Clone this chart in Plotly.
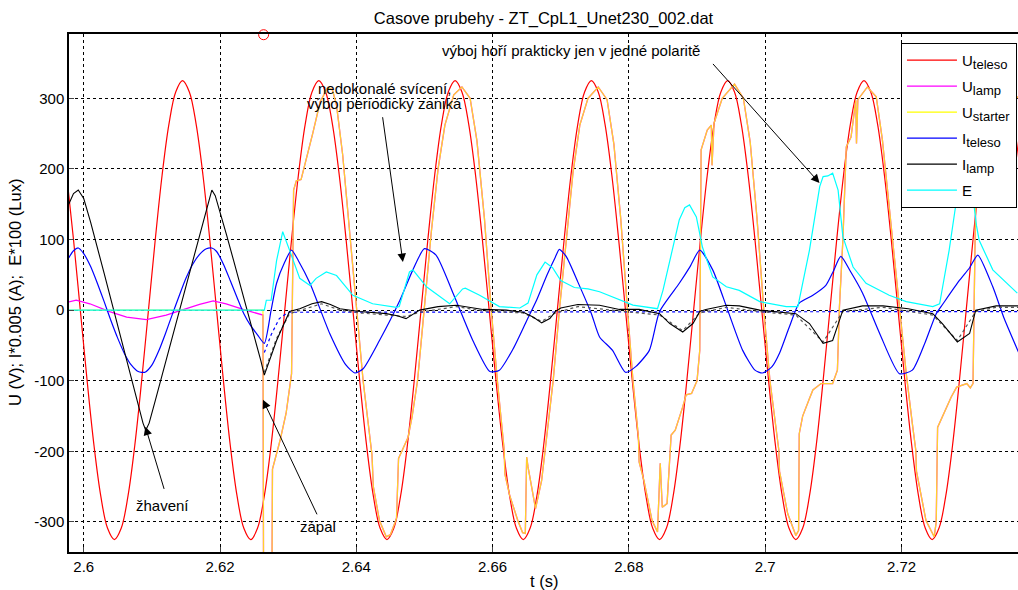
import plotly.graph_objects as go

# ---------------- data ----------------
title_text = "Casove prubehy - ZT_CpL1_Unet230_002.dat"
x_ticks = [2.6, 2.62, 2.64, 2.66, 2.68, 2.7, 2.72]
x_ticktext = ["2.6", "2.62", "2.64", "2.66", "2.68", "2.7", "2.72"]
y_ticks = [-300, -200, -100, 0, 100, 200, 300]
y_ticktext = ["-300", "-200", "-100", "0", "100", "200", "300"]

# U_teleso: sampled every 1 ms from 2.5975 s
uteleso_t0 = 2.5975
uteleso_dt = 0.001
uteleso_v = [
    191, 100, 0, -100, -191, -263, -309, -325, -309, -263, -191, -100, 0, 100, 191, 263, 309, 325, 309, 263,
    191, 100, 0, -100, -191, -263, -309, -325, -309, -263, -191, -100, 0, 100, 191, 263, 309, 325, 309, 263,
    191, 100, 0, -100, -191, -263, -309, -325, -309, -263, -191, -100, 0, 100, 191, 263, 309, 325, 309, 263,
    191, 100, 0, -100, -191, -263, -309, -325, -309, -263, -191, -100, 0, 100, 191, 263, 309, 325, 309, 263,
    191, 100, 0, -100, -191, -263, -309, -325, -309, -263, -191, -100, 0, 100, 191, 263, 309, 325, 309, 263,
    191, 100, 0, -100, -191, -263, -309, -325, -309, -263, -191, -100, 0, 100, 191, 263, 309, 325, 309, 263,
    191, 100, 0, -100, -191, -263, -309, -325, -309, -263, -191, -100, 0, 100, 191, 263, 309, 325, 309, 263,
    191,
]

# U_lamp before ignition
ulamp_pre_t = [2.5978, 2.5989, 2.6009, 2.6038, 2.6063, 2.6092, 2.6121, 2.6146, 2.6170, 2.6190, 2.6209, 2.6234, 2.6263]
ulamp_pre_v = [11.5, 14, 9, -2, -10, -13.5, -7, 1, 8, 13, 9, 1, -7]

# U_starter before ignition
ustarter_pre_t = [2.5978, 2.6263]
ustarter_pre_v = [0, 0]

# U_starter (= U_lamp) after ignition
ustarter_post_t = [
    2.6264, 2.6276, 2.6277, 2.6280, 2.6288, 2.6297, 2.6305, 2.6308, 2.6312, 2.6319, 2.6327, 2.6336, 2.6347,
    2.6358, 2.6365, 2.6371, 2.6380, 2.6390, 2.6400, 2.6410, 2.6423, 2.6425, 2.6434, 2.6444, 2.6450, 2.6459,
    2.6462, 2.6470, 2.6476, 2.6482, 2.6490, 2.6500, 2.6510, 2.6520, 2.6530, 2.6543, 2.6555, 2.6567, 2.6577,
    2.6588, 2.6598, 2.6607, 2.6617, 2.6618, 2.6625, 2.6637, 2.6644, 2.6648, 2.6650, 2.6652, 2.6663, 2.6672,
    2.6683, 2.6689, 2.6698, 2.6708, 2.6718, 2.6728, 2.6740, 2.6755, 2.6768, 2.6778, 2.6788, 2.6798, 2.6806,
    2.6814, 2.6815, 2.6822, 2.6834, 2.6842, 2.6846, 2.6849, 2.6856, 2.6862, 2.6868, 2.6879, 2.6884, 2.6892,
    2.6900, 2.6904, 2.6906, 2.6915, 2.6921, 2.6922, 2.6925, 2.6937, 2.6955, 2.6968, 2.6978, 2.6988, 2.6998,
    2.7007, 2.7020, 2.7021, 2.7033, 2.7045, 2.7049, 2.7050, 2.7055, 2.7065, 2.7070, 2.7082, 2.7099, 2.7106,
    2.7109, 2.7114, 2.7119, 2.7126, 2.7133, 2.7134, 2.7136, 2.7150, 2.7163, 2.7172, 2.7187, 2.7197, 2.7207,
    2.7216, 2.7221, 2.7222, 2.7236, 2.7248, 2.7251, 2.7253, 2.7262, 2.7273, 2.7281, 2.7296, 2.7301, 2.7305,
    2.7308, 2.7310, 2.7320, 2.7335, 2.7350, 2.7372,
]
ustarter_post_v = [
    -420, -420, -225, -215, -185, -146, -90, 170, 183, 185, 215, 250, 295,
    315, 312, 290, 220, 110, 0, -100, -205, -250, -298, -321, -318, -295,
    -210, -192, -180, -150, -99, 5, 110, 200, 262, 305, 316, 300, 240,
    130, 0, -100, -198, -232, -262, -298, -315, -316, -208, -222, -281, -241,
    -146, -99, 0, 100, 195, 262, 300, 316, 298, 235, 130, 0, -100,
    -180, -215, -241, -298, -314, -217, -279, -274, -177, -170, -137, -120, -118,
    -100, -57, 227, 255, 262, 205, 265, 300, 320, 300, 238, 130, 0,
    -100, -198, -228, -288, -319, -312, -175, -150, -125, -113, -104, -104, -85,
    5, 99, 231, 245, 297, 236, 298, 316, 302, 241, 99, 5, -90,
    -161, -198, -228, -298, -321, -300, -166, -146, -123, -109, -104, -110, -104,
    99, 200, 262, 305, 318, 300,
]

# I_teleso
iteleso_t = [
    2.5978, 2.5985, 2.5992, 2.6000, 2.6010, 2.6020, 2.6030, 2.6040, 2.6050, 2.6060, 2.6070, 2.6080, 2.6090,
    2.6100, 2.6110, 2.6120, 2.6130, 2.6140, 2.6150, 2.6160, 2.6170, 2.6180, 2.6188, 2.6195, 2.6205, 2.6215,
    2.6225, 2.6235, 2.6245, 2.6255, 2.6265, 2.6275, 2.6283, 2.6295, 2.6305, 2.6315, 2.6332, 2.6361, 2.6385,
    2.6398, 2.6410, 2.6434, 2.6464, 2.6483, 2.6500, 2.6517, 2.6542, 2.6571, 2.6596, 2.6610, 2.6630, 2.6650,
    2.6665, 2.6680, 2.6692, 2.6698, 2.6708, 2.6725, 2.6745, 2.6757, 2.6776, 2.6795, 2.6810, 2.6830, 2.6845,
    2.6874, 2.6890, 2.6904, 2.6923, 2.6945, 2.6967, 2.6985, 2.6996, 2.7010, 2.7021, 2.7035, 2.7050, 2.7070,
    2.7089, 2.7100, 2.7111, 2.7125, 2.7143, 2.7168, 2.7197, 2.7216, 2.7235, 2.7251, 2.7261, 2.7285, 2.7300,
    2.7312, 2.7334, 2.7350, 2.7372,
]
iteleso_v = [
    74, 84, 88, 80, 62, 38, 12, -15, -40, -62, -78, -87, -88,
    -78, -58, -33, -6, 20, 45, 65, 79, 87, 88, 83, 65, 42,
    18, -5, -22, -35, -47, 0, 38, 68, 85, 70, 38, -33, -78,
    -89, -83, -43, 14, 57, 87, 78, 24, -43, -87, -85, -55, -15,
    15, 50, 75, 86, 76, 40, -5, -38, -57, -88, -80, -57, -2,
    38, 62, 85, 57, 0, -57, -85, -89, -80, -61, -25, 10, 21,
    35, 55, 76, 55, 24, -33, -90, -85, -45, -5, 9, 42, 60,
    78, 33, -10, -60,
]

# I_lamp
ilamp_t = [
    2.5978, 2.5985, 2.5992, 2.6000, 2.6010, 2.6020, 2.6030, 2.6040, 2.6050, 2.6060, 2.6070, 2.6080, 2.6087,
    2.6091, 2.6096, 2.6105, 2.6115, 2.6125, 2.6135, 2.6145, 2.6155, 2.6165, 2.6175, 2.6183, 2.6188, 2.6193,
    2.6200, 2.6210, 2.6220, 2.6230, 2.6240, 2.6250, 2.6260, 2.6265, 2.6283, 2.6302, 2.6317, 2.6335, 2.6349,
    2.6362, 2.6376, 2.6405, 2.6444, 2.6460, 2.6473, 2.6483, 2.6493, 2.6520, 2.6547, 2.6586, 2.6620, 2.6645,
    2.6660, 2.6672, 2.6684, 2.6692, 2.6700, 2.6725, 2.6757, 2.6786, 2.6815, 2.6845, 2.6860, 2.6879, 2.6894,
    2.6904, 2.6913, 2.6943, 2.6962, 2.6992, 2.7045, 2.7065, 2.7085, 2.7099, 2.7114, 2.7143, 2.7173, 2.7210,
    2.7246, 2.7260, 2.7282, 2.7300, 2.7309, 2.7339, 2.7372,
]
ilamp_v = [
    150, 165, 170, 158, 125, 90, 52, 15, -22, -58, -95, -132, -160,
    -170, -160, -128, -92, -56, -20, 16, 52, 88, 124, 155, 170, 162,
    140, 105, 70, 35, 0, -35, -72, -92, -43, -2, 2, 9, 12,
    8, 2, -2, -5, -8, -12, -6, 0, 5, 7, 1, 0, -3,
    -10, -18, -12, -2, 3, 8, 7, 1, 1, -5, -19, -31, -19,
    -2, 1, 7, 6, 0, -5, -19, -47, -43, 0, 6, 6, 2,
    -5, -19, -45, -33, 0, 6, 6,
]

# faint companion traces around zero (not in the legend)
ilamp2_t = [2.6265, 2.6283, 2.6302, 2.6320, 2.6349, 2.6376, 2.6405, 2.6444, 2.6473, 2.6493, 2.6547, 2.6586,
            2.6645, 2.6672, 2.6692, 2.6725, 2.6786, 2.6845, 2.6879, 2.6904, 2.6943, 2.6992, 2.7045, 2.7085,
            2.7114, 2.7173, 2.7246, 2.7282, 2.7309, 2.7339, 2.7372]
ilamp2_v = [-88, -40, -5, 0, 9, 0, -4, -7, -9, -3, 5, -1,
            -4, -16, -4, 5, -1, -7, -29, -4, 4, -2, -7, -45,
            -2, 4, -7, -43, -2, 4, 4]
iteleso2_t = [2.6265, 2.6275, 2.6287, 2.6300, 2.7372]
iteleso2_v = [-60, -35, -12, -3, -2]

# E
e_t = [
    2.5978, 2.6265, 2.6268, 2.6275, 2.6283, 2.6292, 2.6302, 2.6317, 2.6332, 2.6341, 2.6356, 2.6371, 2.6395,
    2.6424, 2.6459, 2.6463, 2.6478, 2.6483, 2.6503, 2.6522, 2.6537, 2.6556, 2.6560, 2.6581, 2.6610, 2.6640,
    2.6652, 2.6665, 2.6677, 2.6688, 2.6700, 2.6720, 2.6740, 2.6757, 2.6776, 2.6806, 2.6842, 2.6850, 2.6874,
    2.6882, 2.6889, 2.6899, 2.6908, 2.6923, 2.6943, 2.6962, 2.6992, 2.7031, 2.7048, 2.7065, 2.7080, 2.7085,
    2.7092, 2.7099, 2.7107, 2.7114, 2.7129, 2.7148, 2.7182, 2.7207, 2.7246, 2.7256, 2.7270, 2.7280, 2.7290,
    2.7300, 2.7310, 2.7314, 2.7334, 2.7370,
]
e_v = [
    0, 0, 14, 14, 70, 111, 85, 45, 35, 45, 54, 49, 21,
    9, 4, 5, 54, 57, 33, 19, 9, 30, 31, 21, 5, 3,
    10, 50, 68, 60, 42, 32, 30, 26, 19, 7, 2, 28, 128,
    145, 149, 132, 89, 47, 33, 28, 12, 5, 5, 85, 175, 189,
    190, 194, 170, 104, 61, 38, 21, 12, 5, 9, 85, 151, 200,
    200, 120, 99, 57, 24,
]

# ignition marker
marker_t = [2.6264]
marker_v = [390]

# annotations: (text, t, value)
notes = [
    ("žhavení", 2.61159, -276),
    ("zápal", 2.63433, -307),
    ("nedokonalé svícení,", 2.64415, 314),
    ("výboj periodicky zaniká", 2.64415, 292),
]
note_left = ("výboj hoří prakticky jen v jedné polaritě", 2.65222, 368)
# arrows: head (t, value), tail (t, value)
arrows = [
    ((2.60905, -165), (2.61188, -256)),
    ((2.62630, -127), (2.63437, -292)),
    ((2.64684, 68), (2.64382, 276)),
    ((2.70797, 180), (2.69212, 351)),
]

# ---------------- figure ----------------
uteleso_t = [round(uteleso_t0 + uteleso_dt * i, 4) for i in range(len(uteleso_v))]
ulamp_t = ulamp_pre_t + ustarter_post_t
ulamp_v = ulamp_pre_v + ustarter_post_v
ustarter_t = ustarter_pre_t + ustarter_post_t
ustarter_v = ustarter_pre_v + ustarter_post_v

RED, MAG, YEL, BLU, BLK, CYA = "#FF0000", "#FF00FF", "#FFFF00", "#0000FF", "#000000", "#00FFFF"

fig = go.Figure()
fig.add_trace(go.Scatter(x=uteleso_t, y=uteleso_v, mode="lines", line=dict(color=RED, width=1.2, shape="spline"),
                         showlegend=False, hoverinfo="skip"))
fig.add_trace(go.Scatter(x=ulamp_t, y=ulamp_v, mode="lines", line=dict(color=MAG, width=1.3),
                         showlegend=False, hoverinfo="skip"))
fig.add_trace(go.Scatter(x=ustarter_t, y=ustarter_v, mode="lines", line=dict(color=YEL, width=1.3),
                         opacity=0.82, showlegend=False, hoverinfo="skip"))
fig.add_trace(go.Scatter(x=iteleso_t, y=iteleso_v, mode="lines",
                         line=dict(color=BLU, width=1.2, shape="spline", smoothing=0.6),
                         showlegend=False, hoverinfo="skip"))
fig.add_trace(go.Scatter(x=iteleso2_t, y=iteleso2_v, mode="lines", line=dict(color=BLU, width=1.2, dash="dot"),
                         showlegend=False, hoverinfo="skip"))
fig.add_trace(go.Scatter(x=ilamp2_t, y=ilamp2_v, mode="lines", line=dict(color="#555555", width=1.2, dash="dot"),
                         showlegend=False, hoverinfo="skip"))
fig.add_trace(go.Scatter(x=ilamp_t, y=ilamp_v, mode="lines", line=dict(color=BLK, width=1.1),
                         showlegend=False, hoverinfo="skip"))
fig.add_trace(go.Scatter(x=e_t, y=e_v, mode="lines", line=dict(color=CYA, width=1.2),
                         showlegend=False, hoverinfo="skip"))
fig.add_trace(go.Scatter(x=marker_t, y=marker_v, mode="markers", cliponaxis=False,
                         marker=dict(symbol="circle-open", color=RED, size=10, line=dict(width=1)),
                         showlegend=False, hoverinfo="skip"))

# legend entries
SUB = "<sub><span style='font-size:13px'>%s</span></sub>"
legend_items = [("U" + SUB % "teleso", RED), ("U" + SUB % "lamp", MAG), ("U" + SUB % "starter", YEL),
                ("I" + SUB % "teleso", BLU), ("I" + SUB % "lamp", BLK), ("E", CYA)]
for i, (name, col) in enumerate(legend_items):
    fig.add_trace(go.Scatter(x=[None], y=[None], mode="lines", name=name, legendgroup="g%d" % i,
                             line=dict(color=col, width=1.2)))

annotations = []
for txt, t, v in notes:
    annotations.append(dict(x=t, y=v, xref="x", yref="y", text=txt, showarrow=False,
                            font=dict(size=15, color="black"), xanchor="center", yanchor="middle"))
annotations.append(dict(x=note_left[1], y=note_left[2], xref="x", yref="y", text=note_left[0], showarrow=False,
                        font=dict(size=15, color="black"), xanchor="left", yanchor="middle"))
for (ht, hv), (tt, tv) in arrows:
    annotations.append(dict(x=ht, y=hv, ax=tt, ay=tv, xref="x", yref="y", axref="x", ayref="y", text=" ",
                            font=dict(size=1), showarrow=True, arrowhead=2, arrowsize=1.7, arrowwidth=1,
                            arrowcolor="black", standoff=0, startstandoff=0))
annotations.append(dict(x=0.5, y=0, xref="paper", yref="paper", text="t (s)", showarrow=False,
                        yanchor="top", yshift=-18, font=dict(size=16.5)))
annotations.append(dict(x=0, y=0.5, xref="paper", yref="paper", text="U (V); I*0.005 (A);  E*100 (Lux)",
                        showarrow=False, textangle=-90, xanchor="center", yanchor="middle", xshift=-54,
                        font=dict(size=16.5)))

fig.update_layout(
    width=1018, height=590,
    margin=dict(l=69, r=0, t=34, b=38),
    paper_bgcolor="white", plot_bgcolor="white",
    font=dict(family="Liberation Sans, Arial, sans-serif", size=15, color="black"),
    title=dict(text=title_text, x=0.5, xref="paper", xanchor="center", y=1 - 18 / 590, yanchor="middle",
               font=dict(size=16.5)),
    legend=dict(x=0.9989, xanchor="right", y=0.983, yanchor="top", bgcolor="white", bordercolor="black",
                borderwidth=1, font=dict(size=15), itemwidth=50, tracegroupgap=3.5, traceorder="grouped"),
    annotations=annotations,
)
fig.update_xaxes(range=[2.59784, 2.7371], tickvals=x_ticks, ticktext=x_ticktext, ticks="inside", ticklen=5,
                 showgrid=True, gridcolor="black", griddash="dot", gridwidth=1,
                 showline=True, linecolor="black", linewidth=1.5, mirror=True, zeroline=False)
fig.update_yaxes(range=[-342.5, 391], tickvals=y_ticks, ticktext=y_ticktext, ticks="inside", ticklen=5,
                 showgrid=True, gridcolor="black", griddash="dot", gridwidth=1,
                 showline=True, linecolor="black", linewidth=1.5, mirror=False, zeroline=False)

fig.write_html("out.html")
